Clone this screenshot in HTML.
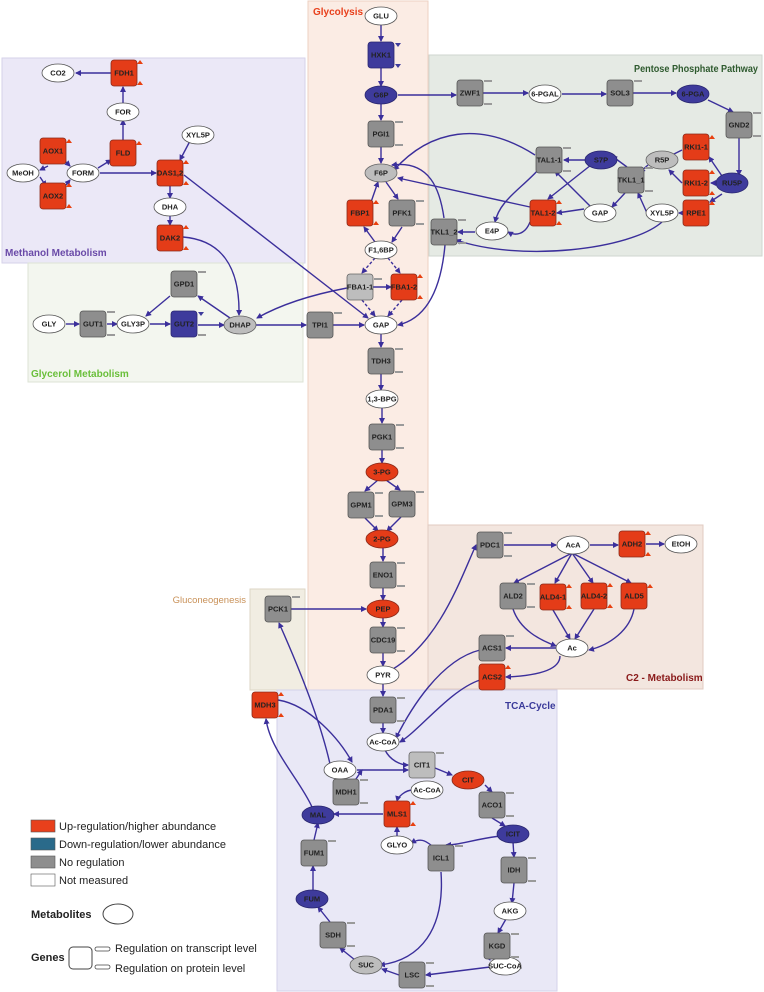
<!DOCTYPE html>
<html><head><meta charset="utf-8"><style>
html,body{margin:0;padding:0;background:#fff}
svg{display:block}
text{font-family:"Liberation Sans",sans-serif}
.n{font-size:7.5px;font-weight:bold;fill:#222;text-anchor:middle;dominant-baseline:central}
.r{fill:#e43c18;stroke:#8a2a1a;stroke-width:.8}
.b{fill:#3e3b9c;stroke:#2a2770;stroke-width:.8}
.g{fill:#8e8e8e;stroke:#555;stroke-width:.8}
.lg{fill:#bdbdbd;stroke:#666;stroke-width:.8}
.w{fill:#fff;stroke:#555;stroke-width:.8}
.e{fill:none;stroke:#3b2f9b;stroke-width:1.4;marker-end:url(#a)}
.t{font-size:10px;font-weight:bold}
</style></head><body>
<svg width="764" height="992" viewBox="0 0 764 992" xmlns="http://www.w3.org/2000/svg">
<defs>
<marker id="a" markerWidth="6" markerHeight="6" refX="5" refY="3" orient="auto" markerUnits="userSpaceOnUse"><path d="M0,0 L6,3 L0,6z" fill="#3b2f9b"/></marker>
<g id="tu"><path d="M13,-9 l3,-4 l3,4z M13,12 l3,-4 l3,4z" fill="#e8400f"/></g>
<g id="gb"><path d="M14,-12 h8 M14,11 h8" stroke="#9a9a9a" stroke-width="2"/></g>
<g id="bd"><path d="M14,-12 l3,4 l3,-4z M14,9 l3,4 l3,-4z" fill="#3e3b9c"/></g>
</defs>
<!-- regions -->
<rect x="2" y="58" width="303" height="205" fill="#ebe8f7" stroke="#d6d2ea"/>
<rect x="308" y="1" width="120" height="690" fill="#fbece4" stroke="#ecd0c2"/>
<rect x="429" y="55" width="333" height="201" fill="#e5eae4" stroke="#cfd6cf"/>
<rect x="28" y="263" width="275" height="119" fill="#f3f6ef" stroke="#dde3d6"/>
<rect x="250" y="589" width="55" height="101" fill="#f1ede2" stroke="#ddd6c6"/>
<rect x="428" y="525" width="275" height="164" fill="#f3e6df" stroke="#e0cbc2"/>
<rect x="277" y="690" width="280" height="301" fill="#e9e8f6" stroke="#d4d2ea"/>
<text x="313" y="15" class="t" fill="#e8401c">Glycolysis</text>
<text x="5" y="256" class="t" fill="#6a4aa8">Methanol Metabolism</text>
<text x="31" y="377" class="t" fill="#6abf3a">Glycerol Metabolism</text>
<text x="634" y="72" class="t" fill="#2e5a2e" textLength="124" lengthAdjust="spacingAndGlyphs">Pentose Phosphate Pathway</text>
<text x="246" y="603" font-size="9.5" fill="#c9925a" text-anchor="end">Gluconeogenesis</text>
<text x="626" y="681" class="t" fill="#8a1a1a">C2 - Metabolism</text>
<text x="505" y="709" class="t" fill="#3a3a9a">TCA-Cycle</text>

<!-- edges -->
<g>
<path class="e" d="M381,24 V41"/><path class="e" d="M381,68 V86"/><path class="e" d="M381,104 V120"/><path class="e" d="M381,147 V163"/>
<path class="e" d="M398,95 H456"/><path class="e" d="M483,93 H528"/><path class="e" d="M562,94 H606"/><path class="e" d="M633,93 H676"/>
<path class="e" d="M708,100 L733,112"/><path class="e" d="M739,138 V175"/>
<path class="e" d="M370,205 L378,182"/><path class="e" d="M386,182 L398,199"/><path class="e" d="M375,242 L364,227"/><path class="e" d="M402,227 L392,242"/>
<path class="e" d="M375,258 L362,273" stroke-dasharray="3,2"/><path class="e" d="M388,258 L400,273" stroke-dasharray="3,2"/>
<path class="e" d="M362,300 L375,316" stroke-dasharray="3,2"/><path class="e" d="M402,300 L388,316" stroke-dasharray="3,2"/>
<path class="e" d="M347,288 C310,295 280,305 257,318"/><path class="e" d="M373,287 H391"/>
<path class="e" d="M256,325 H306"/><path class="e" d="M333,325 H364"/>
<path class="e" d="M381,333 V347"/><path class="e" d="M381,374 V390"/><path class="e" d="M382,407 V423"/><path class="e" d="M382,450 V463"/>
<path class="e" d="M378,480 L365,491"/><path class="e" d="M386,480 L400,490"/><path class="e" d="M365,518 L378,531"/><path class="e" d="M401,517 L387,531"/>
<path class="e" d="M383,547 V561"/><path class="e" d="M383,588 V600"/><path class="e" d="M291,609 H366"/><path class="e" d="M383,617 V627"/><path class="e" d="M383,653 V666"/>
<path class="e" d="M383,683 V696"/><path class="e" d="M383,723 V733"/>
<path class="e" d="M393,669 C440,640 460,580 476,545"/><path class="e" d="M504,545 H556"/><path class="e" d="M590,545 H618"/><path class="e" d="M646,544 H664"/>
<path class="e" d="M572,553 L514,583"/><path class="e" d="M572,553 L555,583"/><path class="e" d="M572,553 L593,583"/><path class="e" d="M572,553 L631,583"/>
<path class="e" d="M513,609 C520,630 540,640 556,646"/><path class="e" d="M553,610 L570,639"/><path class="e" d="M594,609 L575,639"/><path class="e" d="M634,609 C630,630 610,645 589,650"/>
<path class="e" d="M556,648 H506"/><path class="e" d="M560,656 C560,672 530,676 506,677"/>
<path class="e" d="M480,650 C440,660 410,710 396,738"/><path class="e" d="M480,680 C450,690 420,730 400,742"/>
<path class="e" d="M385,750 C390,760 400,765 408,765"/><path class="e" d="M435,768 L452,775"/><path class="e" d="M485,785 L492,792"/>
<path class="e" d="M492,818 L505,826"/><path class="e" d="M513,842 L514,857"/><path class="e" d="M514,883 L512,903"/><path class="e" d="M506,919 L498,933"/>
<path class="e" d="M485,952 L490,960"/><path class="e" d="M490,967 L426,975"/><path class="e" d="M399,975 L382,969"/><path class="e" d="M355,960 L340,948"/>
<path class="e" d="M330,922 L318,907"/><path class="e" d="M313,891 V866"/><path class="e" d="M314,840 L318,823"/>
<path class="e" d="M383,814 H334"/><path class="e" d="M413,790 C405,790 398,797 397,801"/><path class="e" d="M397,837 V827"/>
<path class="e" d="M500,836 C470,840 460,845 446,845"/><path class="e" d="M441,872 C445,930 420,960 380,965"/><path class="e" d="M432,846 C425,840 420,838 411,843"/>
<path class="e" d="M354,782 L362,770"/><path class="e" d="M357,770 H408"/><path class="e" d="M312,807 C300,780 270,750 266,719"/>
<path class="e" d="M278,700 C310,705 340,740 352,762"/><path class="e" d="M330,764 C320,720 300,670 279,623"/>
<path class="e" d="M48,166 L40,170"/><path class="e" d="M40,177 L46,186"/><path class="e" d="M62,158 L70,166"/><path class="e" d="M62,190 L70,180"/>
<path class="e" d="M98,168 L111,160"/><path class="e" d="M123,140 V120"/><path class="e" d="M123,104 V87"/><path class="e" d="M111,73 H76"/>
<path class="e" d="M100,173 H156"/><path class="e" d="M190,141 L180,160"/><path class="e" d="M170,186 V198"/><path class="e" d="M170,215 V225"/>
<path class="e" d="M184,175 L368,318"/><path class="e" d="M183,237 C220,240 240,265 239,315"/>
<path class="e" d="M66,324 H79"/><path class="e" d="M107,324 H117"/><path class="e" d="M150,324 H170"/><path class="e" d="M198,325 H224"/>
<path class="e" d="M170,296 L146,316"/><path class="e" d="M230,318 L198,296"/>
<path class="e" d="M586,160 H564"/>
<path class="e" d="M535,155 C480,120 430,130 394,170"/><path class="e" d="M530,207 L398,178"/>
<path class="e" d="M591,165 L548,199"/><path class="e" d="M584,209 L557,213"/><path class="e" d="M590,206 L555,171"/>
<path class="e" d="M540,168 C520,190 500,200 495,222"/><path class="e" d="M530,222 C525,235 515,236 508,232"/><path class="e" d="M475,232 H458"/>
<path class="e" d="M627,167 L612,156"/><path class="e" d="M625,193 L612,207"/><path class="e" d="M647,213 L638,193"/>
<path class="e" d="M682,150 L668,157"/><path class="e" d="M682,183 L669,170"/><path class="e" d="M648,165 L640,172"/>
<path class="e" d="M716,183 H711"/><path class="e" d="M722,194 L710,202"/><path class="e" d="M722,176 L709,157"/><path class="e" d="M682,213 H679"/>
<path class="e" d="M662,222 C630,250 520,262 456,240"/>
<path class="e" d="M444,218 C440,190 430,160 392,165"/><path class="e" d="M445,245 C440,300 420,320 398,325"/>
</g>

<!-- metabolites -->
<g>
<ellipse cx="381" cy="16" rx="16" ry="9" class="w"/><text x="381" y="16" class="n">GLU</text>
<ellipse cx="381" cy="95" rx="16" ry="9" class="b"/><text x="381" y="95" class="n">G6P</text>
<ellipse cx="381" cy="173" rx="16" ry="9" class="lg"/><text x="381" y="173" class="n">F6P</text>
<ellipse cx="381" cy="250" rx="16" ry="9" class="w"/><text x="381" y="250" class="n">F1,6BP</text>
<ellipse cx="381" cy="325" rx="16" ry="9" class="w"/><text x="381" y="325" class="n">GAP</text>
<ellipse cx="382" cy="399" rx="16" ry="9" class="w"/><text x="382" y="399" class="n">1,3-BPG</text>
<ellipse cx="382" cy="472" rx="16" ry="9" class="r"/><text x="382" y="472" class="n">3-PG</text>
<ellipse cx="382" cy="539" rx="16" ry="9" class="r"/><text x="382" y="539" class="n">2-PG</text>
<ellipse cx="383" cy="609" rx="16" ry="9" class="r"/><text x="383" y="609" class="n">PEP</text>
<ellipse cx="383" cy="675" rx="16" ry="9" class="w"/><text x="383" y="675" class="n">PYR</text>
<ellipse cx="58" cy="73" rx="16" ry="9" class="w"/><text x="58" y="73" class="n">CO2</text>
<ellipse cx="123" cy="112" rx="16" ry="9" class="w"/><text x="123" y="112" class="n">FOR</text>
<ellipse cx="23" cy="173" rx="16" ry="9" class="w"/><text x="23" y="173" class="n">MeOH</text>
<ellipse cx="83" cy="173" rx="16" ry="9" class="w"/><text x="83" y="173" class="n">FORM</text>
<ellipse cx="198" cy="135" rx="16" ry="9" class="w"/><text x="198" y="135" class="n">XYL5P</text>
<ellipse cx="170" cy="207" rx="16" ry="9" class="w"/><text x="170" y="207" class="n">DHA</text>
<ellipse cx="49" cy="324" rx="16" ry="9" class="w"/><text x="49" y="324" class="n">GLY</text>
<ellipse cx="133" cy="324" rx="16" ry="9" class="w"/><text x="133" y="324" class="n">GLY3P</text>
<ellipse cx="240" cy="325" rx="16" ry="9" class="lg"/><text x="240" y="325" class="n">DHAP</text>
<ellipse cx="545" cy="94" rx="16" ry="9" class="w"/><text x="545" y="94" class="n">6-PGAL</text>
<ellipse cx="693" cy="94" rx="16" ry="9" class="b"/><text x="693" y="94" class="n">6-PGA</text>
<ellipse cx="601" cy="160" rx="16" ry="9" class="b"/><text x="601" y="160" class="n">S7P</text>
<ellipse cx="662" cy="160" rx="16" ry="9" class="lg"/><text x="662" y="160" class="n">R5P</text>
<ellipse cx="732" cy="183" rx="16" ry="10" class="b"/><text x="732" y="183" class="n">RU5P</text>
<ellipse cx="662" cy="213" rx="16" ry="9" class="w"/><text x="662" y="213" class="n">XYL5P</text>
<ellipse cx="600" cy="213" rx="16" ry="9" class="w"/><text x="600" y="213" class="n">GAP</text>
<ellipse cx="492" cy="231" rx="16" ry="9" class="w"/><text x="492" y="231" class="n">E4P</text>
<ellipse cx="573" cy="545" rx="16" ry="9" class="w"/><text x="573" y="545" class="n">AcA</text>
<ellipse cx="681" cy="544" rx="16" ry="9" class="w"/><text x="681" y="544" class="n">EtOH</text>
<ellipse cx="572" cy="648" rx="16" ry="9" class="w"/><text x="572" y="648" class="n">Ac</text>
<ellipse cx="383" cy="742" rx="16" ry="9" class="w"/><text x="383" y="742" class="n">Ac-CoA</text>
<ellipse cx="340" cy="770" rx="16" ry="9" class="w"/><text x="340" y="770" class="n">OAA</text>
<ellipse cx="468" cy="780" rx="16" ry="9" class="r"/><text x="468" y="780" class="n">CIT</text>
<ellipse cx="427" cy="790" rx="16" ry="9" class="w"/><text x="427" y="790" class="n">Ac-CoA</text>
<ellipse cx="318" cy="815" rx="16" ry="9" class="b"/><text x="318" y="815" class="n">MAL</text>
<ellipse cx="513" cy="834" rx="16" ry="9" class="b"/><text x="513" y="834" class="n">ICIT</text>
<ellipse cx="397" cy="845" rx="16" ry="9" class="w"/><text x="397" y="845" class="n">GLYO</text>
<ellipse cx="312" cy="899" rx="16" ry="9" class="b"/><text x="312" y="899" class="n">FUM</text>
<ellipse cx="510" cy="911" rx="16" ry="9" class="w"/><text x="510" y="911" class="n">AKG</text>
<ellipse cx="366" cy="965" rx="16" ry="9" class="lg"/><text x="366" y="965" class="n">SUC</text>
<ellipse cx="505" cy="966" rx="16" ry="9" class="w"/><text x="505" y="966" class="n">SUC-CoA</text>
</g>

<!-- genes -->
<g>
<g transform="translate(381,55)"><rect x="-13" y="-13" width="26" height="26" rx="3" class="b"/><text class="n">HXK1</text><use href="#bd"/></g>
<g transform="translate(381,134)"><rect x="-13" y="-13" width="26" height="26" rx="3" class="g"/><text class="n">PGI1</text><use href="#gb"/></g>
<g transform="translate(360,213)"><rect x="-13" y="-13" width="26" height="26" rx="3" class="r"/><text class="n">FBP1</text><use href="#tu"/></g>
<g transform="translate(402,213)"><rect x="-13" y="-13" width="26" height="26" rx="3" class="g"/><text class="n">PFK1</text><use href="#gb"/></g>
<g transform="translate(360,287)"><rect x="-13" y="-13" width="26" height="26" rx="3" class="lg"/><text class="n">FBA1-1</text><path d="M14,-8 h8" stroke="#9a9a9a" stroke-width="2"/></g>
<g transform="translate(404,287)"><rect x="-13" y="-13" width="26" height="26" rx="3" class="r"/><text class="n">FBA1-2</text><use href="#tu"/></g>
<g transform="translate(320,325)"><rect x="-13" y="-13" width="26" height="26" rx="3" class="g"/><text class="n">TPI1</text><path d="M14,-12 h8" stroke="#9a9a9a" stroke-width="2"/></g>
<g transform="translate(381,361)"><rect x="-13" y="-13" width="26" height="26" rx="3" class="g"/><text class="n">TDH3</text><use href="#gb"/></g>
<g transform="translate(382,437)"><rect x="-13" y="-13" width="26" height="26" rx="3" class="g"/><text class="n">PGK1</text><use href="#gb"/></g>
<g transform="translate(361,505)"><rect x="-13" y="-13" width="26" height="26" rx="3" class="g"/><text class="n">GPM1</text><use href="#gb"/></g>
<g transform="translate(402,504)"><rect x="-13" y="-13" width="26" height="26" rx="3" class="g"/><text class="n">GPM3</text><path d="M14,-12 h8" stroke="#9a9a9a" stroke-width="2"/></g>
<g transform="translate(383,575)"><rect x="-13" y="-13" width="26" height="26" rx="3" class="g"/><text class="n">ENO1</text><use href="#gb"/></g>
<g transform="translate(383,640)"><rect x="-13" y="-13" width="26" height="26" rx="3" class="g"/><text class="n">CDC19</text><use href="#gb"/></g>
<g transform="translate(278,609)"><rect x="-13" y="-13" width="26" height="26" rx="3" class="g"/><text class="n">PCK1</text><path d="M14,-12 h8" stroke="#9a9a9a" stroke-width="2"/></g>
<g transform="translate(124,73)"><rect x="-13" y="-13" width="26" height="26" rx="3" class="r"/><text class="n">FDH1</text><use href="#tu"/></g>
<g transform="translate(123,153)"><rect x="-13" y="-13" width="26" height="26" rx="3" class="r"/><text class="n">FLD</text><path d="M13,-8 l3,-4 l3,4z" fill="#e8400f"/></g>
<g transform="translate(53,151)"><rect x="-13" y="-13" width="26" height="26" rx="3" class="r"/><text class="n">AOX1</text><path d="M13,-8 l3,-4 l3,4z" fill="#e8400f"/></g>
<g transform="translate(53,196)"><rect x="-13" y="-13" width="26" height="26" rx="3" class="r"/><text class="n">AOX2</text><use href="#tu"/></g>
<g transform="translate(170,173)"><rect x="-13" y="-13" width="26" height="26" rx="3" class="r"/><text class="n">DAS1,2</text><use href="#tu"/></g>
<g transform="translate(170,238)"><rect x="-13" y="-13" width="26" height="26" rx="3" class="r"/><text class="n">DAK2</text><use href="#tu"/></g>
<g transform="translate(184,284)"><rect x="-13" y="-13" width="26" height="26" rx="3" class="g"/><text class="n">GPD1</text><path d="M14,-12 h8" stroke="#9a9a9a" stroke-width="2"/></g>
<g transform="translate(93,324)"><rect x="-13" y="-13" width="26" height="26" rx="3" class="g"/><text class="n">GUT1</text><use href="#gb"/></g>
<g transform="translate(184,324)"><rect x="-13" y="-13" width="26" height="26" rx="3" class="b"/><text class="n">GUT2</text><path d="M14,-12 l3,4 l3,-4z" fill="#3e3b9c"/><path d="M14,11 h8" stroke="#9a9a9a" stroke-width="2"/></g>
<g transform="translate(470,93)"><rect x="-13" y="-13" width="26" height="26" rx="3" class="g"/><text class="n">ZWF1</text><use href="#gb"/></g>
<g transform="translate(620,93)"><rect x="-13" y="-13" width="26" height="26" rx="3" class="g"/><text class="n">SOL3</text><path d="M14,-12 h8" stroke="#9a9a9a" stroke-width="2"/></g>
<g transform="translate(739,125)"><rect x="-13" y="-13" width="26" height="26" rx="3" class="g"/><text class="n">GND2</text><use href="#gb"/></g>
<g transform="translate(696,147)"><rect x="-13" y="-13" width="26" height="26" rx="3" class="r"/><text class="n">RKI1-1</text><path d="M13,-8 l3,-4 l3,4z" fill="#e8400f"/></g>
<g transform="translate(696,183)"><rect x="-13" y="-13" width="26" height="26" rx="3" class="r"/><text class="n">RKI1-2</text><use href="#tu"/></g>
<g transform="translate(696,213)"><rect x="-13" y="-13" width="26" height="26" rx="3" class="r"/><text class="n">RPE1</text><path d="M13,-8 l3,-4 l3,4z" fill="#e8400f"/></g>
<g transform="translate(549,160)"><rect x="-13" y="-13" width="26" height="26" rx="3" class="g"/><text class="n">TAL1-1</text><use href="#gb"/></g>
<g transform="translate(631,180)"><rect x="-13" y="-13" width="26" height="26" rx="3" class="g"/><text class="n">TKL1_1</text><use href="#gb"/></g>
<g transform="translate(543,213)"><rect x="-13" y="-13" width="26" height="26" rx="3" class="r"/><text class="n">TAL1-2</text><use href="#tu"/></g>
<g transform="translate(444,232)"><rect x="-13" y="-13" width="26" height="26" rx="3" class="g"/><text class="n">TKL1_2</text><use href="#gb"/></g>
<g transform="translate(490,545)"><rect x="-13" y="-13" width="26" height="26" rx="3" class="g"/><text class="n">PDC1</text><use href="#gb"/></g>
<g transform="translate(632,544)"><rect x="-13" y="-13" width="26" height="26" rx="3" class="r"/><text class="n">ADH2</text><use href="#tu"/></g>
<g transform="translate(513,596)"><rect x="-13" y="-13" width="26" height="26" rx="3" class="g"/><text class="n">ALD2</text><use href="#gb"/></g>
<g transform="translate(553,597)"><rect x="-13" y="-13" width="26" height="26" rx="3" class="r"/><text class="n">ALD4-1</text><use href="#tu"/></g>
<g transform="translate(594,596)"><rect x="-13" y="-13" width="26" height="26" rx="3" class="r"/><text class="n">ALD4-2</text><use href="#tu"/></g>
<g transform="translate(634,596)"><rect x="-13" y="-13" width="26" height="26" rx="3" class="r"/><text class="n">ALD5</text><path d="M13,-8 l3,-4 l3,4z" fill="#e8400f"/></g>
<g transform="translate(492,648)"><rect x="-13" y="-13" width="26" height="26" rx="3" class="g"/><text class="n">ACS1</text><path d="M14,-12 h8" stroke="#9a9a9a" stroke-width="2"/></g>
<g transform="translate(492,677)"><rect x="-13" y="-13" width="26" height="26" rx="3" class="r"/><text class="n">ACS2</text><path d="M13,-8 l3,-4 l3,4z" fill="#e8400f"/></g>
<g transform="translate(265,705)"><rect x="-13" y="-13" width="26" height="26" rx="3" class="r"/><text class="n">MDH3</text><use href="#tu"/></g>
<g transform="translate(383,710)"><rect x="-13" y="-13" width="26" height="26" rx="3" class="g"/><text class="n">PDA1</text><use href="#gb"/></g>
<g transform="translate(422,765)"><rect x="-13" y="-13" width="26" height="26" rx="3" class="lg"/><text class="n">CIT1</text><path d="M14,-12 h8" stroke="#9a9a9a" stroke-width="2"/></g>
<g transform="translate(346,792)"><rect x="-13" y="-13" width="26" height="26" rx="3" class="g"/><text class="n">MDH1</text><use href="#gb"/></g>
<g transform="translate(397,814)"><rect x="-13" y="-13" width="26" height="26" rx="3" class="r"/><text class="n">MLS1</text><use href="#tu"/></g>
<g transform="translate(492,805)"><rect x="-13" y="-13" width="26" height="26" rx="3" class="g"/><text class="n">ACO1</text><use href="#gb"/></g>
<g transform="translate(441,858)"><rect x="-13" y="-13" width="26" height="26" rx="3" class="g"/><text class="n">ICL1</text><path d="M14,-12 h8" stroke="#9a9a9a" stroke-width="2"/></g>
<g transform="translate(514,870)"><rect x="-13" y="-13" width="26" height="26" rx="3" class="g"/><text class="n">IDH</text><use href="#gb"/></g>
<g transform="translate(314,853)"><rect x="-13" y="-13" width="26" height="26" rx="3" class="g"/><text class="n">FUM1</text><path d="M14,-12 h8" stroke="#9a9a9a" stroke-width="2"/></g>
<g transform="translate(333,935)"><rect x="-13" y="-13" width="26" height="26" rx="3" class="g"/><text class="n">SDH</text><use href="#gb"/></g>
<g transform="translate(497,946)"><rect x="-13" y="-13" width="26" height="26" rx="3" class="g"/><text class="n">KGD</text><use href="#gb"/></g>
<g transform="translate(412,975)"><rect x="-13" y="-13" width="26" height="26" rx="3" class="g"/><text class="n">LSC</text><use href="#gb"/></g>
</g>

<!-- legend -->
<g font-size="11" fill="#222">
<rect x="31" y="820" width="24" height="12" fill="#e8401c" stroke="#555" stroke-width=".6"/><text x="59" y="830">Up-regulation/higher abundance</text>
<rect x="31" y="838" width="24" height="12" fill="#2a6a8a" stroke="#555" stroke-width=".6"/><text x="59" y="848">Down-regulation/lower abundance</text>
<rect x="31" y="856" width="24" height="12" fill="#8e8e8e" stroke="#555" stroke-width=".6"/><text x="59" y="866">No regulation</text>
<rect x="31" y="874" width="24" height="12" fill="#fff" stroke="#555" stroke-width=".6"/><text x="59" y="884">Not measured</text>
<text x="31" y="918" font-weight="bold">Metabolites</text>
<ellipse cx="118" cy="914" rx="15" ry="10" fill="#fff" stroke="#444"/>
<text x="31" y="961" font-weight="bold">Genes</text>
<rect x="69" y="947" width="23" height="22" rx="4" fill="#fff" stroke="#444"/>
<rect x="95" y="947" width="15" height="4" rx="2" fill="#fff" stroke="#444" stroke-width=".8"/>
<rect x="95" y="965" width="15" height="4" rx="2" fill="#fff" stroke="#444" stroke-width=".8"/>
<text x="115" y="952">Regulation on transcript level</text>
<text x="115" y="972">Regulation on protein level</text>
</g>
</svg>
</body></html>
